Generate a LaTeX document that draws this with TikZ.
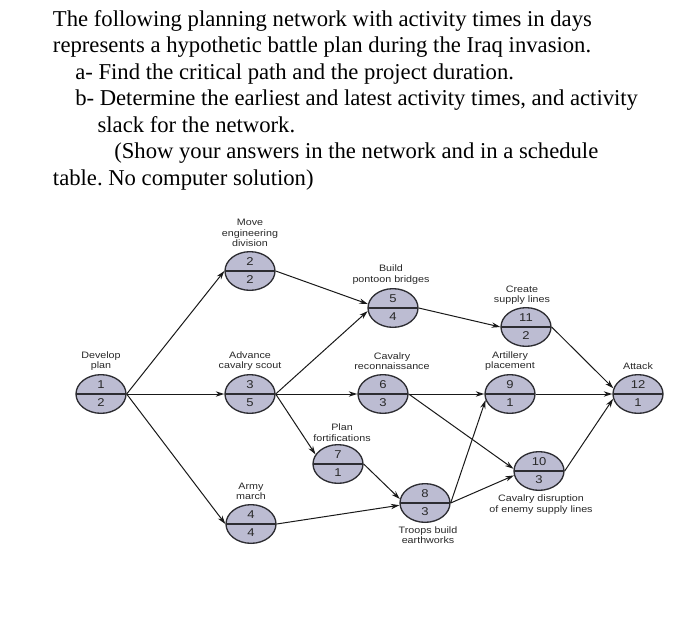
\documentclass[tikz,border=0pt]{standalone}
\usepackage{fontspec}
\setmainfont{Liberation Serif}
\newfontfamily\labelfont{Liberation Sans}[FakeStretch=1.15]
\usetikzlibrary{shapes.geometric,arrows.meta}
\definecolor{evfill}{RGB}{188,188,210}
\definecolor{evline}{RGB}{45,45,50}
\definecolor{lbltext}{RGB}{40,40,40}
\frenchspacing

\tikzset{
  event/.style={ellipse, draw=evline, line width=1pt, fill=evfill,
    minimum width=37.5pt, minimum height=29pt, inner sep=0pt, align=center,
    text=lbltext, font=\labelfont\fontsize{8.5}{13.5}\selectfont,
    path picture={\draw[evline, line width=1pt] (path picture bounding box.west) -- (path picture bounding box.east);}},
  caption/.style={align=center, inner sep=0pt, text=lbltext,
    font=\labelfont\fontsize{7}{7.9}\selectfont},
  link/.style={draw=black!90, line width=0.75pt, -{Stealth[length=6.5pt,width=4pt]}},
  qline/.style={anchor=base west, inner sep=0pt, font=\fontsize{17}{20}\selectfont},
}

\begin{document}
\begin{tikzpicture}[x=0.75pt,y=0.75pt,yscale=-1,xscale=1]
\useasboundingbox (0,0) rectangle (700,632);

% Question text
\node[qline] (q1) at (52.7,26) {The following planning network with activity times in days};
\node[qline] (q2) at (52.7,52.5) {represents a hypothetic battle plan during the Iraq invasion.};
\node[qline] (q3) at (75,79) {a- Find the critical path and the project duration.};
\node[qline] (q4) at (75,105.5) {b- Determine the earliest and latest activity times, and activity};
\node[qline] (q5) at (97.3,132) {slack for the network.};
\node[qline] (q6) at (114,158.5) {(Show your answers in the network and in a schedule};
\node[qline] (q7) at (52.7,185) {table. No computer solution)};

% Events
\node[event] (dev) at (101,394) {1\\2};
\node[event] (move) at (250,271) {2\\2};
\node[event] (adv) at (250,394) {3\\5};
\node[event] (pont) at (393,308) {5\\4};
\node[event] (recon) at (383,394) {6\\3};
\node[event] (supply) at (526,327) {11\\2};
\node[event] (art) at (510,394) {9\\1};
\node[event] (attack) at (638,394) {12\\1};
\node[event] (fort) at (338,464) {7\\1};
\node[event] (army) at (251,524) {4\\4};
\node[event] (troops) at (425,503) {8\\3};
\node[event] (disrupt) at (539,471) {10\\3};

% Captions
\node[caption] (cdev) at (101,361) {Develop\\plan};
\node[caption] (cmove) at (250,233) {Move\\engineering\\division};
\node[caption] (cadv) at (250,361) {Advance\\cavalry scout};
\node[caption] (cpont) at (391,274.7) {Build\\pontoon bridges};
\node[caption] (crecon) at (392,361) {Cavalry\\reconnaissance};
\node[caption] (csupply) at (522,295) {Create\\supply lines};
\node[caption] (cart) at (510,361) {Artillery\\placement};
\node[caption] (cattack) at (638,366.3) {Attack};
\node[caption] (cfort) at (342,432.5) {Plan\\fortifications};
\node[caption] (carmy) at (251,491.3) {Army\\march};
\node[caption] (ctroops) at (428,535.3) {Troops build\\earthworks};
\node[caption] (cdisrupt) at (541,504.5) {Cavalry disruption\\of enemy supply lines};

% Activities
\draw[link] (dev.east) -- (move.west);
\draw[link] (dev.east) -- (adv.west);
\draw[link] (dev.east) -- (army.west);
\draw[link] (move.east) -- (pont.171);
\draw[link] (adv.east) -- (pont.187);
\draw[link] (adv.east) -- (recon.west);
\draw[link] (adv.east) -- (fort.157);
\draw[link] (pont.east) -- (supply.west);
\draw[link] (recon.east) -- (art.west);
\draw[link] (recon.east) -- (disrupt.175);
\draw[link] (fort.east) -- (troops.171);
\draw[link] (army.east) -- (troops.185);
\draw[link] (troops.east) -- (art.194);
\draw[link] (troops.east) -- (disrupt.190);
\draw[link] (supply.east) -- (attack.167);
\draw[link] (art.east) -- (attack.west);
\draw[link] (disrupt.east) -- (attack.191);

\end{tikzpicture}
\end{document}
